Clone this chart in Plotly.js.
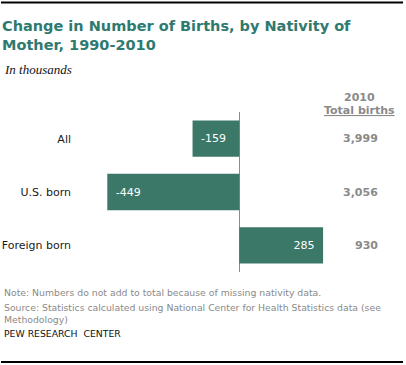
<!DOCTYPE html>
<html>
<head>
<meta charset="utf-8">
<script src="https://cdn.plot.ly/plotly-3.0.1.min.js"></script>
<style>
html,body{margin:0;padding:0;background:#fff;}
#chart{width:406px;height:365px;}
</style>
</head>
<body>
<div id="chart"></div>
<script>
var categories = ["All", "U.S. born", "Foreign born"];
var changes = [-159, -449, 285];
var totals2010 = ["3,999", "3,056", "930"];

var W = 406, H = 365;
var mL = 100, mR = 76, mT = 112, mB = 93;
var pw = W - mL - mR, ph = H - mT - mB;
function px(x){ return (x - mL) / pw; }
function py(y){ return (H - mB - y) / ph; }

var FONT = "DejaVu Sans, Verdana, sans-serif";
var GRAY = "#8a8a8a";
var SP = "\u2002";

var trace = {
  type: "bar",
  orientation: "h",
  y: categories,
  x: changes,
  text: changes.map(function(v){ return v < 0 ? SP + String(v) : String(v) + SP; }),
  texttemplate: "%{text}",
  textposition: "inside",
  insidetextanchor: "end",
  textangle: 0,
  textfont: {family: FONT, size: 11, color: "#ffffff"},
  marker: {color: "#3b7867"},
  hoverinfo: "none"
};

var annotations = [
  {text: "<i>In thousands</i>", x: px(2), y: py(69), xanchor: "left", yanchor: "middle",
   font: {family: "Liberation Serif, Times New Roman, serif", size: 13, color: "#111"}},
  {text: "<b>2010</b>", x: px(359), y: py(97), xanchor: "center", yanchor: "middle",
   font: {family: FONT, size: 11, color: GRAY}},
  {text: "<b><u>Total births</u></b>", x: px(359), y: py(110), xanchor: "center", yanchor: "middle",
   font: {family: FONT, size: 11, color: GRAY}},
  {text: "Note: Numbers do not add to total because of missing nativity data.", x: px(2), y: py(292),
   xanchor: "left", yanchor: "middle", font: {family: FONT, size: 9.3, color: GRAY}},
  {text: "Source: Statistics calculated using National Center for Health Statistics data (see<br>Methodology)",
   x: px(2), y: py(313), xanchor: "left", yanchor: "middle", align: "left",
   font: {family: FONT, size: 9.3, color: GRAY}},
  {text: "PEW RESEARCH  CENTER", x: px(2), y: py(333), xanchor: "left", yanchor: "middle",
   font: {family: FONT, size: 9.3, color: "#111"}}
];
categories.forEach(function(c, i){
  annotations.push({text: "<b>" + totals2010[i] + "</b>", xref: "paper", yref: "y", x: px(380), y: c,
    xanchor: "right", yanchor: "middle", font: {family: FONT, size: 11, color: GRAY}});
});
annotations.forEach(function(a){
  if (!a.xref) a.xref = "paper";
  if (!a.yref) a.yref = "paper";
  a.showarrow = false;
});

var layout = {
  width: W, height: H,
  margin: {l: mL, r: mR, t: mT, b: mB, pad: 0},
  paper_bgcolor: "#fff", plot_bgcolor: "#fff",
  showlegend: false,
  bargap: 0.32,
  title: {
    text: "<b>Change in Number of Births, by Nativity of<br>Mother, 1990-2010</b>",
    x: 0.005, xref: "container", xanchor: "left",
    y: 1 - 31 / H, yref: "container", yanchor: "top",
    font: {family: FONT, size: 14.5, color: "#2f7a70"}
  },
  xaxis: {
    range: [(mL - 239.3) / 0.294, (W - mR - 239.3) / 0.294],
    showgrid: false, showticklabels: false, ticks: "",
    zeroline: true, zerolinecolor: "#8c8c8c", zerolinewidth: 1,
    showline: false, fixedrange: true
  },
  yaxis: {
    autorange: "reversed",
    showgrid: false, zeroline: false, showline: false, ticks: "",
    ticklabelstandoff: 28,
    tickfont: {family: FONT, size: 11, color: "#1a1a1a"},
    fixedrange: true
  },
  shapes: [
    {type: "line", xref: "paper", yref: "paper", x0: px(1), x1: px(403), y0: py(2.5), y1: py(2.5),
     line: {color: "#000", width: 2}},
    {type: "line", xref: "paper", yref: "paper", x0: px(1), x1: px(403), y0: py(362), y1: py(362),
     line: {color: "#000", width: 2}}
  ],
  annotations: annotations
};

Plotly.newPlot("chart", [trace], layout, {displayModeBar: false, staticPlot: true});
</script>
</body>
</html>
